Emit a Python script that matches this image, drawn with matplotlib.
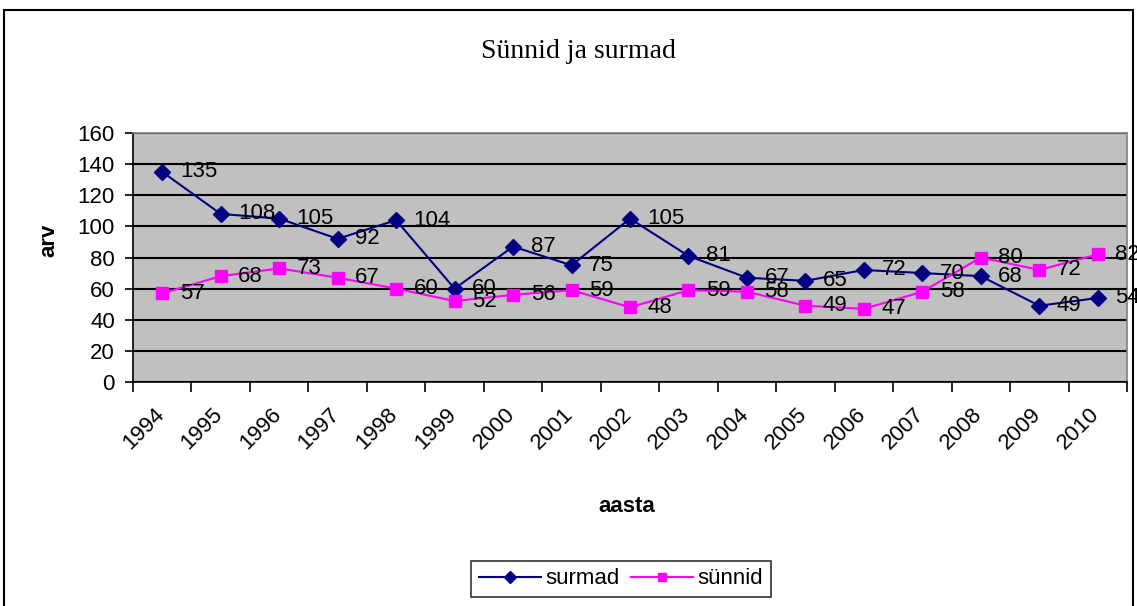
import matplotlib.pyplot as plt
import numpy as np
from matplotlib.patches import Rectangle

# andmed
years = ['1994', '1995', '1996', '1997', '1998', '1999', '2000', '2001', '2002',
         '2003', '2004', '2005', '2006', '2007', '2008', '2009', '2010']
surmad = [135, 108, 105, 92, 104, 60, 87, 75, 105, 81, 67, 65, 72, 70, 68, 49, 54]
sunnid = [57, 68, 73, 67, 60, 52, 56, 59, 48, 59, 58, 49, 47, 58, 80, 72, 82]

plt.rcParams['font.family'] = ['Liberation Sans', 'DejaVu Sans']

fig = plt.figure(figsize=(11.37, 6.06), dpi=100)
# joonise ala pikslites: x 133..1127, y 133..382
W, H = 1137, 606
ax = fig.add_axes([133 / W, 1 - 382 / H, (1127 - 133) / W, (382 - 133) / H])

# välimine raam
fig.patches.append(Rectangle((3.5 / W, -0.01), (1133 - 3.5) / W, 1 - 9.5 / H + 0.01,
                             transform=fig.transFigure, fill=False,
                             edgecolor='black', linewidth=1.5))

x = np.arange(len(years))
ax.set_facecolor('#C0C0C0')
ax.plot(x, surmad, color='#000080', marker='D', markersize=8, linewidth=1.5,
        label='surmad', zorder=3)
ax.plot(x, sunnid, color='#FF00FF', marker='s', markersize=8, linewidth=1.5,
        label='sünnid', zorder=3)

for xi, v in zip(x, surmad):
    ax.text(xi + 0.3, v, str(v), fontsize=16, va='center', ha='left', zorder=4)
for xi, v in zip(x, sunnid):
    ax.text(xi + 0.3, v, str(v), fontsize=16, va='center', ha='left', zorder=4)

ax.set_xlim(-0.5, len(years) - 0.5)
ax.set_ylim(0, 160)
ax.set_yticks(range(0, 161, 20))
ax.tick_params(axis='y', labelsize=16, length=6, width=1.2, pad=7, direction='out')
ax.yaxis.grid(True, color='black', linewidth=1.5)
ax.set_axisbelow(True)

# x-teljel jaotised kategooriate vahel
ax.set_xticks(np.arange(-0.5, len(years), 1))
ax.set_xticklabels([])
ax.tick_params(axis='x', length=7, width=1.2, direction='out')
for xi, lab in zip(x, years):
    ax.text(xi - 0.15, -14, lab, fontsize=16, rotation=45, ha='right', va='top',
            rotation_mode='anchor', transform=ax.transData, clip_on=False)

for s in ['top', 'right']:
    ax.spines[s].set_color('#808080')
    ax.spines[s].set_linewidth(1.2)
for s in ['left', 'bottom']:
    ax.spines[s].set_color('black')
    ax.spines[s].set_linewidth(1.2)

fig.text(578 / W, 1 - 52 / H, 'Sünnid ja surmad', fontsize=20, ha='center', va='center',
         family=['Liberation Serif', 'DejaVu Serif'])
fig.text(49 / W, 1 - 240 / H, 'arv', fontsize=16, fontweight='bold', rotation=90,
         ha='center', va='center')
fig.text(627 / W, 1 - 507 / H, 'aasta', fontsize=16, fontweight='bold',
         ha='center', va='center')

leg = fig.legend(loc='center', bbox_to_anchor=(621 / W, 1 - 579 / H), ncol=2,
                 fontsize=16, frameon=True, fancybox=False, edgecolor='black',
                 handlelength=2.8, columnspacing=0.5, handletextpad=0.2,
                 borderpad=0.35, markerscale=0.8)
leg.get_frame().set_linewidth(1.2)

fig.savefig('out.png', dpi=100)
